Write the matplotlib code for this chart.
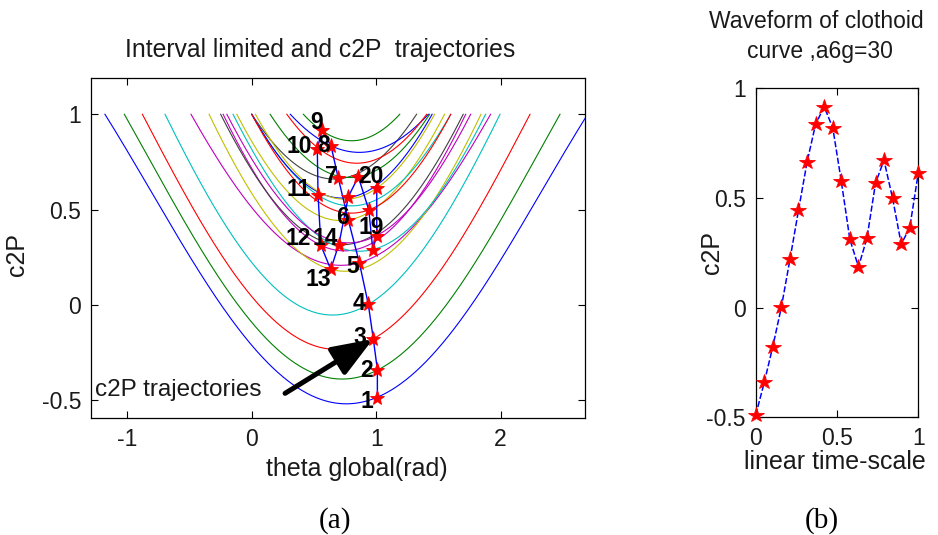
import numpy as np
import matplotlib
matplotlib.use('Agg')
import matplotlib.pyplot as plt

# ---------------- data ----------------
# trajectory points 1..20
step_labels = ['1', '2', '3', '4', '5', '6', '7', '8', '9', '10',
               '11', '12', '13', '14', '15', '16', '17', '18', '19', '20']
c2p = [-0.49, -0.34, -0.178, 0.003, 0.221, 0.443, 0.664, 0.835, 0.916, 0.82,
       0.578, 0.312, 0.186, 0.316, 0.568, 0.672, 0.498, 0.29, 0.363, 0.614]
theta = [1.01, 1.01, 0.977, 0.937, 0.865, 0.777, 0.696, 0.637, 0.566, 0.527,
         0.533, 0.556, 0.635, 0.70, 0.777, 0.857, 0.941, 0.973, 1.005, 1.005]
time_scale = [0.0, 0.053, 0.105, 0.158, 0.211, 0.263, 0.316, 0.368, 0.421, 0.474,
              0.526, 0.579, 0.632, 0.684, 0.737, 0.789, 0.842, 0.895, 0.947, 1.0]

# interval-limit curves: theta where each curve meets c2P=1 (left/right) and its minimum
curve_left = [-1.18, -1.024, -0.879, -0.697, -0.488, -0.12, 0.0, 0.31, 0.415, 0.282,
              0.0, -0.23, -0.343, -0.25, 0.0, 0.148, 0.0, -0.15, -0.2, 0.03]
curve_right = [2.70, 2.478, 2.237, 1.996, 1.92, 1.55, 1.325, 1.42, 1.19, 1.406,
               1.6, 1.72, 1.843, 1.70, 1.45, 1.43, 1.6, 1.88, 1.76, 1.47]
curve_min = [-0.52, -0.39, -0.234, -0.054, 0.207, 0.442, 0.66, 0.80, 0.861, 0.743,
             0.519, 0.283, 0.176, 0.315, 0.56, 0.668, 0.481, 0.281, 0.325, 0.554]

# which point numbers are printed, and where (label offset in px: right edge dx, centre dy up)
shown_labels = ['1', '2', '3', '4', '5', '6', '7', '8', '9', '10', '11', '12', '13', '14', '19', '20']
label_dx = [-4.6, -4, -7.3, -3.3, 0, 0, -1, -0.7, 1, -5, -7.7, -10, 0, -1, 6.7, 6.7]
label_dy = [-1.6, 1, 3.3, 2.3, -2.3, 5, 3.3, 1.7, 9.3, 3.3, 6.7, 8.3, -8, 7.3, 10, 13.3]

left_xticks = [-1, 0, 1, 2]
left_xticklabels = ['-1', '0', '1', '2']
yticks = [-0.5, 0, 0.5, 1]
yticklabels = ['-0.5', '0', '0.5', '1']
right_xticks = [0, 0.5, 1]
right_xticklabels = ['0', '0.5', '1']

matlab_colors = [(0, 0, 1), (0, 0.5, 0), (1, 0, 0), (0, 0.75, 0.75),
                 (0.75, 0, 0.75), (0.75, 0.75, 0), (0.25, 0.25, 0.25)]

# ---------------- figure ----------------
W, H = 938, 535
DPI = 100
fig = plt.figure(figsize=(W / DPI, H / DPI), dpi=DPI)
plt.rcParams['font.family'] = ['Liberation Sans', 'DejaVu Sans']
TXT = '#1a1a1a'


def px_axes(x0, y0, x1, y1):
    return fig.add_axes([x0 / W, 1 - y1 / H, (x1 - x0) / W, (y1 - y0) / H])


ax1 = px_axes(91, 77.7, 585, 418.3)
ax2 = px_axes(755.7, 88.3, 918.3, 417.3)

# ---- left panel curves ----
for i, (L, R, m) in enumerate(zip(curve_left, curve_right, curve_min)):
    c = (L + R) / 2.0
    hw = (R - L) / 2.0
    xs = np.linspace(L, R, 400)
    ys = m + (1 - m) * (1 - np.cos(xs - c)) / (1 - np.cos(hw))
    ax1.plot(xs, ys, color=matlab_colors[i % 7], lw=0.8, zorder=2)

ax1.plot(theta, c2p, color='b', lw=1.0, zorder=3)
ax1.plot(theta, c2p, ls='none', marker='*', ms=11, mfc='r', mec='r', mew=0.6, zorder=4)

fs_num = 16.5
for lab, dx, dy in zip(shown_labels, label_dx, label_dy):
    k = step_labels.index(lab)
    dig_h = 0.716 * fs_num / 0.72  # digit height in px
    ax1.annotate(lab, xy=(theta[k], c2p[k]), xytext=(dx * 0.72, (dy - dig_h / 2) * 0.72),
                 textcoords='offset points', ha='right', va='baseline',
                 fontsize=fs_num, fontweight='bold', color='k', zorder=5)

ax1.annotate('', xy=(0.975, -0.18), xytext=(0.268, -0.465),
             arrowprops=dict(arrowstyle='-|>,head_length=1.25,head_width=0.48',
                             lw=3.6, color='k', shrinkA=0, shrinkB=0, mutation_scale=20),
             zorder=6)
ax1.text(-1.257, -0.447, 'c2P trajectories', fontsize=17.5, color=TXT, ha='left', va='center', zorder=6)

ax1.set_xlim(-1.292, 2.679)
ax1.set_ylim(-0.596, 1.192)
ax1.set_xticks(left_xticks)
ax1.set_xticklabels(left_xticklabels)
ax1.set_yticks(yticks)
ax1.set_yticklabels(yticklabels)

# ---- right panel ----
ax2.plot(time_scale, c2p, color='b', lw=1.1, ls=(0, (4, 1.5)), zorder=3, clip_on=False)
ax2.plot(time_scale, c2p, ls='none', marker='*', ms=11.5, mfc='r', mec='r', mew=0.6,
         zorder=4, clip_on=False)
ax2.set_xlim(0, 1)
ax2.set_ylim(-0.5, 1)
ax2.set_xticks(right_xticks)
ax2.set_xticklabels(right_xticklabels)
ax2.set_yticks(yticks)
ax2.set_yticklabels(yticklabels)

for ax in (ax1, ax2):
    ax.tick_params(direction='in', top=True, right=True, length=5, width=0.8,
                   labelsize=16.5, labelcolor=TXT, pad=7)
    for sp in ax.spines.values():
        sp.set_linewidth(0.9)
        sp.set_color('k')

# axis labels
ax1.set_xlabel('theta global(rad)', fontsize=18, color=TXT)
ax1.xaxis.set_label_coords((356.7 - 91) / 494, (418.3 - 469) / 340.6)
ax1.set_ylabel('c2P', fontsize=18, color=TXT)
ax1.yaxis.set_label_coords((16.7 - 91) / 494, 0.48)

ax2.set_xlabel('linear time-scale', fontsize=18, color=TXT)
ax2.xaxis.set_label_coords((835 - 755.7) / 162.6, (417.3 - 462) / 329)
ax2.set_ylabel('c2P', fontsize=18, color=TXT)
ax2.yaxis.set_label_coords((712 - 755.7) / 162.6, 0.5)

for lab in (ax1.xaxis.label, ax2.xaxis.label, ax1.yaxis.label, ax2.yaxis.label):
    lab.set_verticalalignment('center')

# titles
fig.text(320.5 / W, 1 - 56.7 / H, 'Interval limited and c2P  trajectories',
         fontsize=17.8, color=TXT, ha='center', va='baseline')
fig.text(816.7 / W, 1 - 28.3 / H, 'Waveform of clothoid',
         fontsize=16.5, color=TXT, ha='center', va='baseline')
fig.text(820 / W, 1 - 58.3 / H, 'curve ,a6g=30',
         fontsize=16.5, color=TXT, ha='center', va='baseline')

# panel tags
fig.text(335 / W, 1 - 521 / H, '(a)', fontsize=21, family='Liberation Serif',
         color='k', ha='center', va='center')
fig.text(822 / W, 1 - 521 / H, '(b)', fontsize=21, family='Liberation Serif',
         color='k', ha='center', va='center')

fig.savefig('out.png', dpi=DPI)
